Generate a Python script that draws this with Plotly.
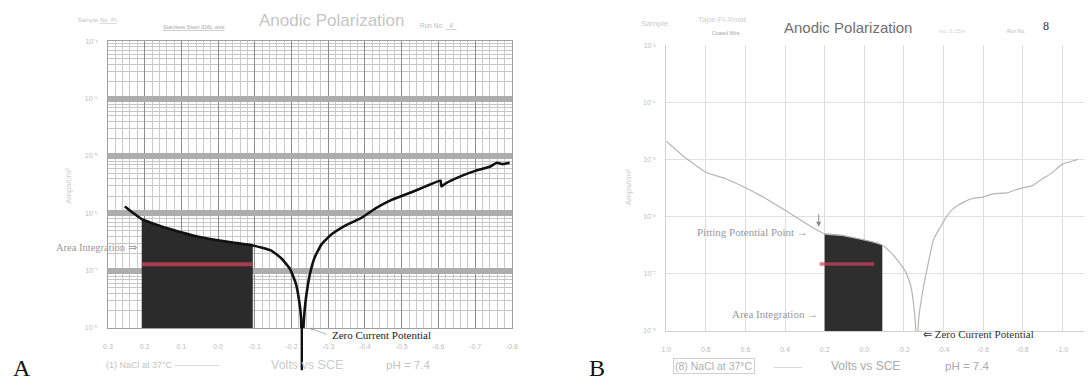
import numpy as np
import plotly.graph_objects as go

W, H = 1090, 385

# ---------------- data ----------------
# Panel A : potential (V vs SCE) and current density (A/cm^2)
a_volts = [0.254, 0.230, 0.208, 0.176, 0.122, 0.068, 0.014, -0.040, -0.094, -0.120,
           -0.147, -0.174, -0.196, -0.212, -0.220, -0.226, -0.228, -0.234, -0.239, -0.250,
           -0.263, -0.282, -0.309, -0.350, -0.390, -0.430, -0.471, -0.525, -0.565, -0.606,
           -0.608, -0.619, -0.660, -0.700, -0.740, -0.759, -0.775, -0.794]
a_current = [1.32e-6, 1.0e-6, 7.9e-7, 6.6e-7, 5.1e-7, 4.1e-7, 3.5e-7, 3.1e-7, 2.75e-7, 2.5e-7,
             2.2e-7, 1.6e-7, 1.07e-7, 5.9e-8, 3.2e-8, 1.5e-8, 3.0e-9, 1.5e-8, 3.2e-8, 8.7e-8,
             1.7e-7, 2.9e-7, 4.3e-7, 6.3e-7, 8.3e-7, 1.23e-6, 1.7e-6, 2.3e-6, 2.95e-6, 3.7e-6,
             2.95e-6, 3.3e-6, 4.4e-6, 5.5e-6, 6.5e-6, 7.6e-6, 7.2e-6, 7.6e-6]
a_area_limits = [0.208, -0.094]
a_red_x = [0.208, -0.094]
a_red_current = 1.29e-7
a_ecorr = -0.228

# Panel B
b_volts = [1.0, 0.90, 0.80, 0.70, 0.60, 0.50, 0.40, 0.30, 0.23, 0.20,
           0.115, 0.03, -0.05, -0.09, -0.135, -0.175, -0.21, -0.235, -0.25, -0.26,
           -0.265, -0.275, -0.295, -0.32, -0.35, -0.385, -0.41, -0.45, -0.50, -0.55,
           -0.60, -0.65, -0.72, -0.785, -0.85, -0.90, -0.95, -1.0, -1.08]
b_current = [2.1e-5, 1.05e-5, 6.0e-6, 4.6e-6, 3.2e-6, 2.1e-6, 1.29e-6, 7.8e-7, 5.6e-7, 5.0e-7,
             4.7e-7, 4.1e-7, 3.55e-7, 3.2e-7, 2.35e-7, 1.6e-7, 1.07e-7, 6.2e-8, 2.8e-8, 1.1e-8,
             3.0e-9, 1.66e-8, 4.9e-8, 1.35e-7, 4.0e-7, 6.6e-7, 9.3e-7, 1.38e-6, 1.78e-6, 2.1e-6,
             2.2e-6, 2.5e-6, 2.6e-6, 3.1e-6, 3.5e-6, 4.6e-6, 5.9e-6, 8.3e-6, 1.0e-5]
b_area_limits = [0.20, -0.09]
b_red_x = [0.225, -0.05]
b_red_current = 1.48e-7

a_xticks = [0.3, 0.2, 0.1, 0.0, -0.1, -0.2, -0.3, -0.4, -0.5, -0.6, -0.7, -0.8]
b_xticks = [1.0, 0.8, 0.6, 0.4, 0.2, 0.0, -0.2, -0.4, -0.6, -0.8, -1.0]
y_ticks = [1e-8, 1e-7, 1e-6, 1e-5, 1e-4, 1e-3]
y_ticktext = ["10⁻⁸", "10⁻⁷", "10⁻⁶", "10⁻⁵", "10⁻⁴", "10⁻³"]


def px(x):
    return x / W


def py(y):
    return 1 - y / H


def area_polygon(volts, current, limits, floor=1e-10):
    v = np.array(volts)[::-1]
    lc = np.log10(np.array(current))[::-1]
    hi, lo = max(limits), min(limits)
    mask = (v > lo) & (v < hi)
    xs = [hi] + list(v[mask][::-1]) + [lo, lo, hi]
    ys = ([10 ** np.interp(hi, v, lc)] + list((10 ** lc[mask])[::-1]) +
          [10 ** np.interp(lo, v, lc), floor, floor])
    return xs, ys


fig = go.Figure()

# ---- panel A ----
ax, ay = area_polygon(a_volts, a_current, a_area_limits)
fig.add_trace(go.Scatter(x=ax, y=ay, fill="toself", fillcolor="#2b2b2b", mode="lines",
                         line=dict(color="#2b2b2b", width=0.5), xaxis="x", yaxis="y",
                         hoverinfo="skip"))
fig.add_trace(go.Scatter(x=a_red_x, y=[a_red_current] * 2, mode="lines",
                         line=dict(color="rgba(205,70,90,0.75)", width=4),
                         xaxis="x", yaxis="y"))
fig.add_trace(go.Scatter(x=a_volts, y=a_current, mode="lines", line_shape="spline",
                         line=dict(color="#111111", width=2.6, smoothing=0.4),
                         xaxis="x", yaxis="y"))

# ---- panel B ----
bx, by = area_polygon(b_volts, b_current, b_area_limits)
fig.add_trace(go.Scatter(x=bx, y=by, fill="toself", fillcolor="#2e2e2e", mode="lines",
                         line=dict(color="#2e2e2e", width=0.5), xaxis="x2", yaxis="y2",
                         hoverinfo="skip"))
fig.add_trace(go.Scatter(x=b_red_x, y=[b_red_current] * 2, mode="lines",
                         line=dict(color="rgba(205,70,90,0.7)", width=3.5),
                         xaxis="x2", yaxis="y2"))
fig.add_trace(go.Scatter(x=b_volts, y=b_current, mode="lines", line_shape="spline",
                         line=dict(color="#b4b4b4", width=1.2, smoothing=0.4),
                         xaxis="x2", yaxis="y2"))

tickfont = dict(family="Liberation Sans", size=7, color="#bdbdbd")

fig.update_layout(
    width=W, height=H, margin=dict(l=0, r=0, t=0, b=0),
    paper_bgcolor="white", plot_bgcolor="white", showlegend=False,
    xaxis=dict(domain=[px(104), px(512)], range=[0.3, -0.8], anchor="y",
               tickvals=a_xticks, ticktext=[f"{t:.1f}" for t in a_xticks],
               tickfont=tickfont, showgrid=True, gridcolor="#8c8c8c", gridwidth=1.4,
               minor=dict(dtick=0.02, tick0=0, showgrid=True, gridcolor="#cbcbcb", gridwidth=0.7),
               zeroline=False, showline=True, linecolor="#a0a0a0", mirror=True,
               ticks="", ticklabelstandoff=12),
    yaxis=dict(domain=[py(330), py(38)], type="log", range=[-8, -3], anchor="x",
               tickvals=y_ticks, ticktext=y_ticktext, tickfont=tickfont,
               showgrid=True, gridcolor="#adadad", gridwidth=6,
               minor=dict(dtick="D1", showgrid=True, gridcolor="#c6c6c6", gridwidth=0.8),
               zeroline=False, showline=True, linecolor="#a0a0a0", mirror=True,
               ticks="", ticklabelstandoff=8),
    xaxis2=dict(domain=[px(668), 1.0], range=[1.0, -1.11], anchor="y2",
                tickvals=b_xticks, ticktext=[f"{t:.1f}" for t in b_xticks],
                tickfont=tickfont, showgrid=True, gridcolor="#dedede", gridwidth=1,
                zeroline=False, showline=True, linecolor="#d0d0d0",
                ticks="", ticklabelstandoff=12),
    yaxis2=dict(domain=[py(333), py(42)], type="log", range=[-8, -3], anchor="x2",
                tickvals=y_ticks, ticktext=y_ticktext, tickfont=tickfont,
                showgrid=True, gridcolor="#e0e0e0", gridwidth=1,
                zeroline=False, showline=True, linecolor="#d0d0d0",
                ticks="", ticklabelstandoff=8),
)

# zero-current spike of panel A running below the axis
fig.add_shape(type="line", xref="x", yref="paper", x0=a_ecorr, x1=a_ecorr,
              y0=py(328), y1=py(373), line=dict(color="#111111", width=2.4))

serif = "Liberation Serif"
sans = "Liberation Sans"


def note(text, x, y, size=8, color="#bbbbbb", family=sans, xanchor="left", **kw):
    fig.add_annotation(text=text, x=px(x), y=py(y), xref="paper", yref="paper",
                       showarrow=False, xanchor=xanchor, yanchor="middle",
                       font=dict(size=size, color=color, family=family), **kw)


# headers
note("Sample <u>No. Pt</u>", 72, 16, size=6, color="#c4c4c4")
note("<u>Stainless Steel 316L wire</u>", 158, 23, size=5.5, color="#a8a8a8")
note("Anodic Polarization", 330, 17, size=17, color="#c6c6c6", xanchor="center")
note("Run No. <u>  4  </u>", 417, 22, size=6.5, color="#bbbbbb")

note("Sample", 640, 20, size=8, color="#cccccc")
note("Tape-Fi-Xmat", 698, 16, size=8, color="#cfcfcf")
note("Coated Wire", 712, 30, size=5, color="#a8a8a8")
note("Anodic Polarization", 852, 24, size=15, color="#707070", xanchor="center")
note("no. 0.15in", 942, 27, size=6, color="#d0d0d0")
note("Run No.", 1010, 28, size=5, color="#bbbbbb")
note("8", 1052, 22, size=12, color="#333333", family=serif, xanchor="center")

# axis titles
note("Amps/cm²", 64, 185, size=8, color="#cccccc", xanchor="center", textangle=-90)
note("Amps/cm²", 630, 187, size=8, color="#cccccc", xanchor="center", textangle=-90)

# footers
note("(1) NaCl at 37°C —————", 100, 368, size=9, color="#c4c4c4")
note("Volts vs SCE", 267, 368, size=12.5, color="#cccccc")
note("pH = 7.4", 383, 368, size=11.5, color="#c4c4c4")
note("(8) NaCl at 37°C", 675, 369, size=10.5, color="#b0b0b0",
     bordercolor="#d0d0d0", borderwidth=1, borderpad=1)
note("————", 775, 369, size=7, color="#bbbbbb")
note("Volts vs SCE", 832, 369, size=12, color="#aaaaaa")
note("pH = 7.4", 948, 369, size=11.5, color="#aaaaaa")

# panel letters
note("A", 17, 371, size=24, color="#111111", family=serif, xanchor="center")
note("B", 598, 371, size=24, color="#111111", family=serif, xanchor="center")

# callouts panel A
note("Area Integration ⇒", 50, 248, size=10.5, color="#9a9a9a", family=serif)
note("Zero Current Potential", 328, 337, size=11, color="#222222", family=serif)
fig.add_annotation(x=px(308), y=py(330), ax=18, ay=7, xref="paper", yref="paper",
                   showarrow=True, arrowhead=2, arrowsize=0.8, arrowwidth=0.8,
                   arrowcolor="#999999", text="")

# callouts panel B
note("Pitting Potential Point →", 697, 232, size=11, color="#999999", family=serif)
fig.add_annotation(x=px(822), y=py(227), ax=0, ay=-14, xref="paper", yref="paper",
                   showarrow=True, arrowhead=2, arrowsize=1, arrowwidth=1,
                   arrowcolor="#8a8a8a", text="")
note("Area Integration →", 732, 316, size=11, color="#999999", family=serif)
note("⇐ Zero Current Potential", 925, 336, size=11, color="#333333", family=serif)

fig.write_html("out.html")
